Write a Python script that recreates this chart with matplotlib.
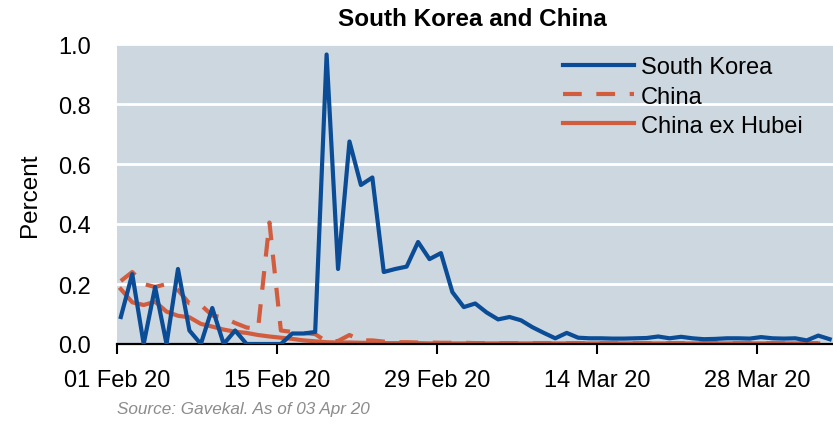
import matplotlib
matplotlib.use('Agg')
import matplotlib.pyplot as plt
import numpy as np
import pandas as pd

###############################################################################
# Data (daily, 01 Feb 20 - 03 Apr 20)
###############################################################################

south_korea = [0.09, 0.233, 0.0, 0.19, 0.0, 0.25, 0.045, 0.0, 0.12, 0.0,
               0.045, 0.0, 0.0, 0.0, 0.0, 0.035, 0.035, 0.04, 0.965, 0.25,
               0.675, 0.53, 0.555, 0.24, 0.25, 0.258, 0.34, 0.283, 0.303, 0.173,
               0.123, 0.135, 0.105, 0.082, 0.09, 0.079, 0.056, 0.037, 0.019, 0.037,
               0.021, 0.019, 0.019, 0.018, 0.018, 0.019, 0.02, 0.025, 0.019, 0.024,
               0.019, 0.016, 0.017, 0.019, 0.019, 0.018, 0.023, 0.019, 0.018, 0.019,
               0.012, 0.028, 0.016]

china = [0.21, 0.24, 0.2, 0.19, 0.2, 0.18, 0.135, 0.13, 0.095, 0.088,
         0.07, 0.055, 0.05, 0.405, 0.045, 0.04, 0.037, 0.033, 0.008, 0.01,
         0.03, 0.012, 0.012, 0.008, 0.006, 0.006, 0.005, 0.005, 0.004, 0.004,
         0.004, 0.003, 0.003, 0.003, 0.003, 0.003, 0.003, 0.003, 0.003, 0.003,
         0.003, 0.003, 0.003, 0.003, 0.003, 0.003, 0.003, 0.003, 0.003, 0.003,
         0.003, 0.003, 0.003, 0.003, 0.003, 0.003, 0.003, 0.003, 0.003, 0.003,
         0.003, 0.003, np.nan]

china_ex_hubei = [0.183, 0.139, 0.13, 0.141, 0.108, 0.094, 0.089, 0.067, 0.058, 0.048,
                  0.041, 0.037, 0.03, 0.025, 0.021, 0.017, 0.012, 0.009, 0.006, 0.005,
                  0.005, 0.004, 0.004, 0.003, 0.003, 0.003, 0.003, 0.002, 0.002, 0.002,
                  0.002, 0.002, 0.002, 0.002, 0.002, 0.002, 0.002, 0.002, 0.002, 0.002,
                  0.002, 0.002, 0.002, 0.002, 0.002, 0.002, 0.002, 0.002, 0.002, 0.002,
                  0.002, 0.002, 0.002, 0.002, 0.002, 0.002, 0.002, 0.002, 0.002, 0.002,
                  0.002, 0.002, np.nan]

dates = pd.date_range('2020-02-01 08:00', periods=len(south_korea), freq='D')
tick_dates = pd.to_datetime(['2020-02-01', '2020-02-15', '2020-02-29',
                             '2020-03-14', '2020-03-28'])
y_ticks = [0.0, 0.2, 0.4, 0.6, 0.8, 1.0]

###############################################################################
# Plot
###############################################################################

blue = '#0a4c95'
red = '#d25d3e'
bg = '#cdd7e0'
fs = 17

plt.rcParams['font.family'] = ['Liberation Sans', 'DejaVu Sans']

fig = plt.figure(figsize=(8.33, 4.27), dpi=100)
ax = fig.add_axes([117/833, 1-345/427, 716/833, 300/427])
ax.set_facecolor(bg)

ax.plot(dates, south_korea, color=blue, lw=3, label='South Korea', zorder=3)
ax.plot(dates, china, color=red, lw=3, dashes=(4.5, 3.5), label='China', zorder=2)
ax.plot(dates, china_ex_hubei, color=red, lw=3, label='China ex Hubei', zorder=2)

ax.set_ylim(0, 1.0)
ax.set_xlim(pd.Timestamp('2020-02-01'), pd.Timestamp('2020-04-03 15:00'))
ax.set_yticks(y_ticks)
ax.set_yticklabels(['%.1f' % v for v in y_ticks])
ax.set_xticks(tick_dates)
ax.set_xticklabels([d.strftime('%d %b %y') for d in tick_dates])

ax.grid(axis='y', color='white', lw=2)
ax.set_axisbelow(True)
for s in ['left', 'right', 'top']:
    ax.spines[s].set_visible(False)
ax.spines['bottom'].set_color('black')
ax.spines['bottom'].set_linewidth(1.6)
ax.tick_params(axis='y', length=0, labelsize=fs, pad=19)
ax.tick_params(axis='x', length=7, width=1.5, direction='out', labelsize=fs, pad=11)
ax.set_ylabel('Percent', fontsize=fs + 0.5, labelpad=12)

leg = ax.legend(loc='upper left', bbox_to_anchor=(0.61, 0.99), frameon=False,
                fontsize=fs, handlelength=3.0, handletextpad=0.3,
                labelspacing=0.3, borderaxespad=0)

fig.text(0.567, 0.955, 'South Korea and China', ha='center', va='center',
         fontsize=17.5, fontweight='bold')
fig.text(117/833, 0.04, 'Source: Gavekal. As of 03 Apr 20', ha='left', va='center',
         fontsize=12.3, style='italic', color='#8c8c8c')

plt.savefig('out.png', dpi=100)
